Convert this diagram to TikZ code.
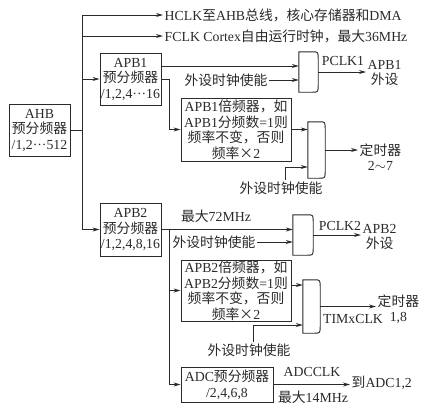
\documentclass[tikz,border=0pt]{standalone}
\usepackage{fontspec}
\setmainfont{Liberation Serif}
\newfontfamily\cj{Noto Sans CJK SC}
\newcommand\zh[1]{{\cj #1}}
\usetikzlibrary{arrows.meta}
\definecolor{ink}{HTML}{2A2A2A}
\tikzset{
  ln/.style={draw=ink, line width=0.9pt},
  arr/.style={ln, -{Stealth[length=7pt,width=4pt]}},
  box/.style={ln, rectangle, inner sep=0pt, align=center, text=ink},
  lbl/.style={inner sep=1.5pt, text=ink, align=center},
  gatebox/.style={rectangle, inner sep=0pt, draw=none},
}
\newcommand\drawgate[1]{\draw[ln] (#1.north west) -- ([xshift=-6pt]#1.north east) .. controls (#1.north east) .. ([yshift=-8pt]#1.north east) -- ([yshift=8pt]#1.south east) .. controls (#1.south east) .. ([xshift=-6pt]#1.south east) -- (#1.south west) -- cycle;}
\begin{document}
\begin{tikzpicture}[x=1pt,y=-1pt,font=\fontsize{13.8}{15.5}\selectfont]
\path[use as bounding box, fill=white] (0,0) rectangle (427,416);

% main boxes
\node[box, minimum width=61pt, minimum height=52pt] (ahb) at (39.5,130) {AHB\\\zh{预分频器}\\/1,2···512};
\node[box, minimum width=61pt, minimum height=52pt] (apb1) at (130.5,79) {APB1\\\zh{预分频器}\\/1,2,4···16};
\node[box, minimum width=61pt, minimum height=53pt] (apb2) at (130.5,229.5) {APB2\\\zh{预分频器}\\/1,2,4,8,16};
\node[box, minimum width=110pt, minimum height=63pt] (mult1) at (236,129.5) {APB1\zh{倍频器，如}\\APB1\zh{分频数}=1\zh{则}\\\zh{频率不变，否则}\\\zh{频率×}2};
\node[box, minimum width=110pt, minimum height=61pt] (mult2) at (236,290.5) {APB2\zh{倍频器，如}\\APB2\zh{分频数}=1\zh{则}\\\zh{频率不变，否则}\\\zh{频率×}2};
\node[box, minimum width=92pt, minimum height=35pt] (adc) at (227,384.5) {ADC\zh{预分频器}\\/2,4,6,8};

% gates
\node[gatebox, minimum width=19pt, minimum height=40pt] (g1) at (308.5,72) {};
\node[gatebox, minimum width=17pt, minimum height=56pt] (g2) at (316.5,150) {};
\node[gatebox, minimum width=20pt, minimum height=40pt] (g3) at (303,235) {};
\node[gatebox, minimum width=17pt, minimum height=53pt] (g4) at (311.5,306.5) {};
\drawgate{g1}\drawgate{g2}\drawgate{g3}\drawgate{g4}

% labels
\node[lbl, anchor=west] (hclk) at (163,15) {HCLK\zh{至}AHB\zh{总线，核心存储器和}DMA};
\node[lbl, anchor=west] (fclk) at (163,36) {FCLK Cortex\zh{自由运行时钟，最大}36MHz};
\node[lbl] (en1) at (226,80) {\zh{外设时钟使能}};
\node[lbl] (pclk1) at (343,61) {PCLK1};
\node[lbl, anchor=west] (apb1p) at (366,73) {APB1\\\zh{外设}};
\node[lbl] (en2) at (281,188) {\zh{外设时钟使能}};
\node[lbl, anchor=west] (tim27) at (358,157) {\zh{定时器}\\2$\sim$7};
\node[lbl] (max72) at (216,216) {\zh{最大}72MHz};
\node[lbl] (en3) at (214,242) {\zh{外设时钟使能}};
\node[lbl] (pclk2) at (340,226) {PCLK2};
\node[lbl, anchor=west] (apb2p) at (361,237) {APB2\\\zh{外设}};
\node[lbl] (en4) at (249,350) {\zh{外设时钟使能}};
\node[lbl] (timx) at (353,319) {TIMxCLK};
\node[lbl, anchor=west] (tim18) at (376,309) {\zh{定时器}\\1,8};
\node[lbl] (adcclk) at (312,372) {ADCCLK};
\node[lbl] (max14) at (313,397) {\zh{最大}14MHz};
\node[lbl, anchor=west] (toadc) at (350,383) {\zh{到}ADC1,2};

% AHB bus
\coordinate (bustop) at (82,15);
\draw[ln] (ahb.east) -- (ahb.east -| bustop);
\draw[ln] (bustop) -- (apb2.west -| bustop);
\draw[arr] (bustop) -- (hclk.west);
\draw[arr] (fclk.west -| bustop) -- (fclk.west);
\draw[arr] (apb1.west -| bustop) -- (apb1.west);
\draw[arr] (apb2.west -| bustop) -- (apb2.west);

% APB1 branch
\draw[arr] ([yshift=13pt]apb1.east) -- ([yshift=13pt]apb1.east -| g1.west);
\draw[arr] (en1.east) -- (en1.east -| g1.west);
\draw[arr] (g1.east) -- (g1.east -| apb1p.west);
\draw[arr] (apb1.east) -- ++(8,0) |- (mult1.west);
\draw[arr] (mult1.east) -- (mult1.east -| g2.west);
\draw[arr] ([xshift=4pt]en2.north) |- ([yshift=-17pt]g2.west);
\draw[arr] (g2.east) -- (g2.east -| tim27.west);

% APB2 branch
\coordinate (j2) at (169,229.5);
\draw[arr] (apb2.east) -- (apb2.east -| g3.west);
\draw[arr] (en3.east) -- (en3.east -| g3.west);
\draw[arr] (g3.east) -- (g3.east -| apb2p.west);
\draw[ln] (j2) -- (adc.west -| j2);
\draw[arr] (mult2.west -| j2) -- (mult2.west);
\draw[arr] (adc.west -| j2) -- (adc.west);
\draw[arr] ([yshift=5.5pt]mult2.east) -- ([yshift=5.5pt]mult2.east -| g4.west);
\draw[arr] ([xshift=4pt]en4.north) |- ([yshift=-18.5pt]g4.west);
\draw[arr] (g4.east) -- (g4.east -| tim18.west);
\draw[arr] (adc.east) -- (adc.east -| toadc.west);
\end{tikzpicture}
\end{document}
